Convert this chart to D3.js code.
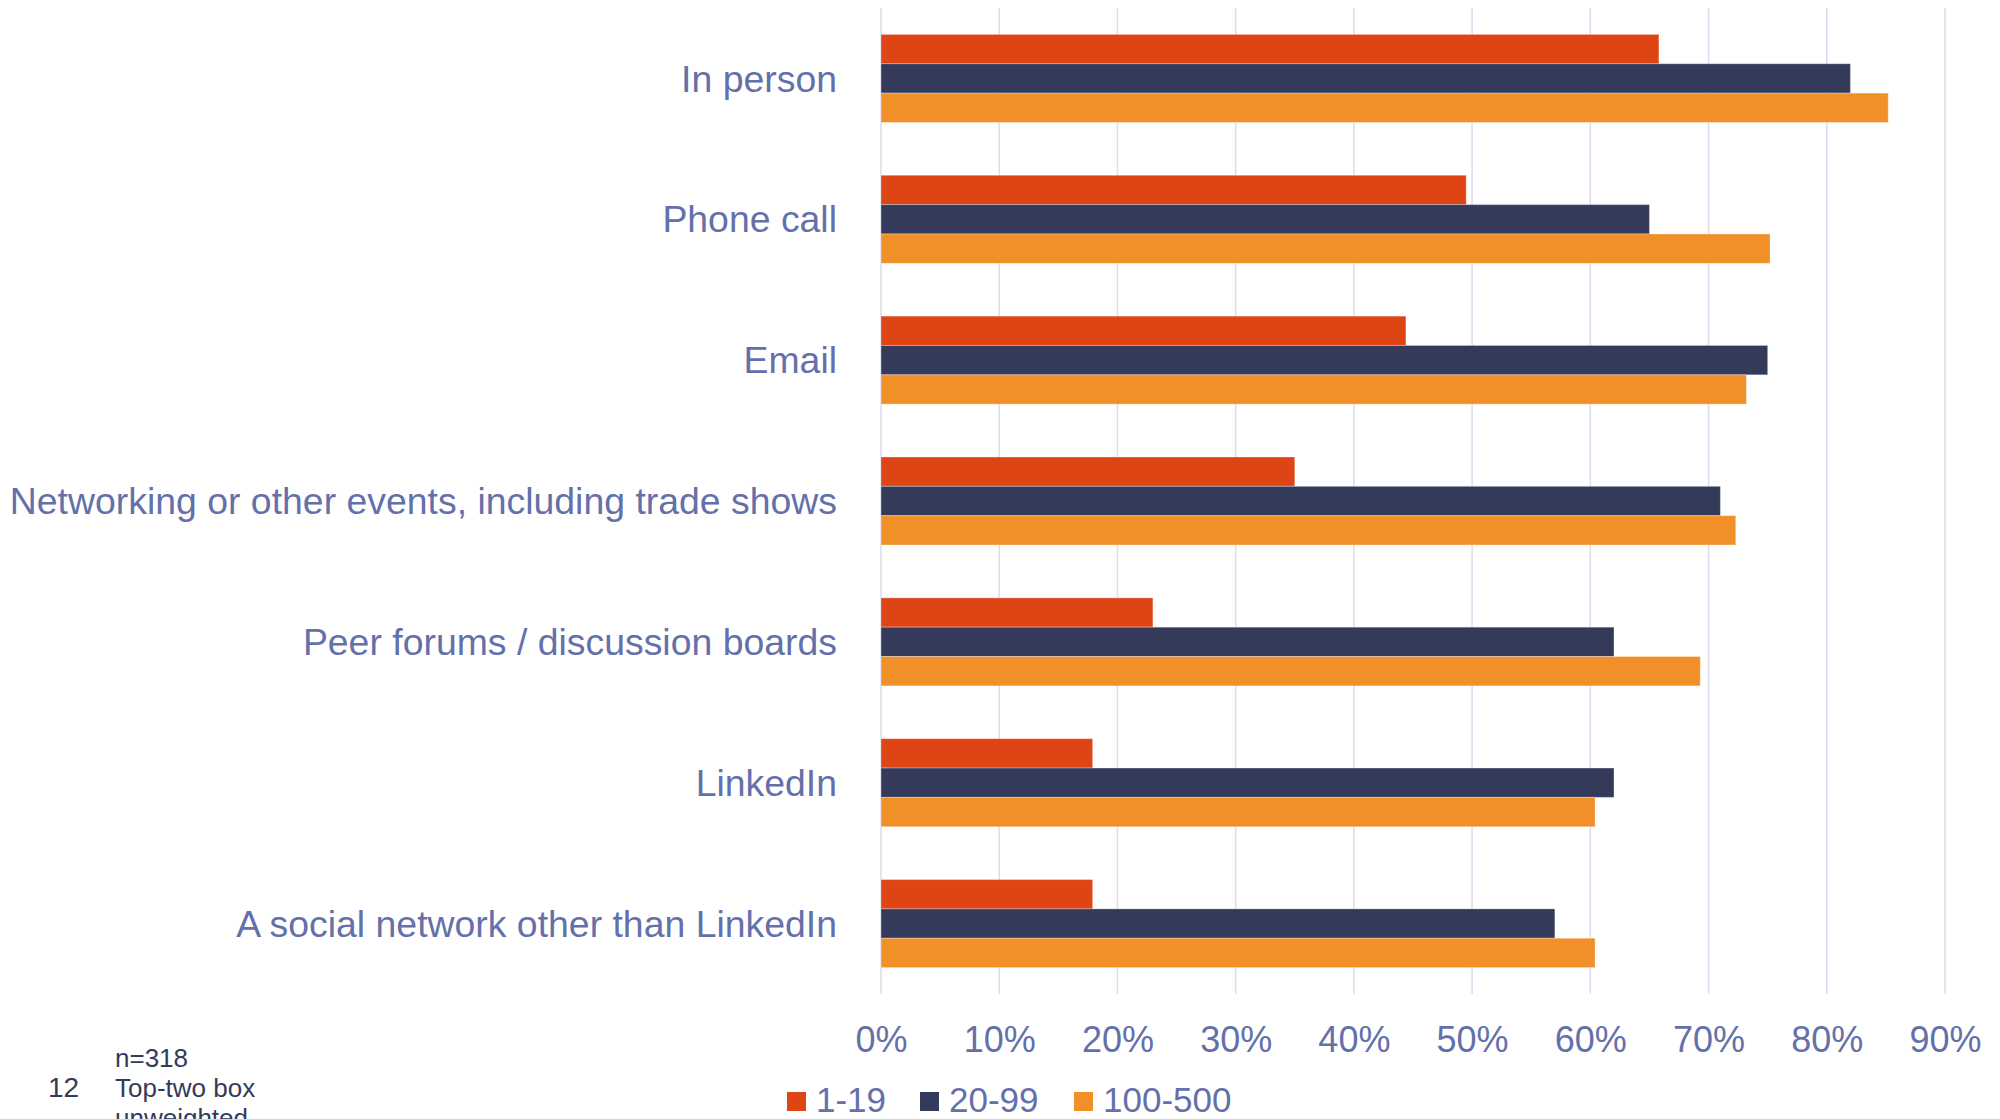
<!DOCTYPE html>
<html>
<head>
<meta charset="utf-8">
<script src="https://cdn.jsdelivr.net/npm/d3@7"></script>
<style>
  html, body { margin: 0; padding: 0; background: #ffffff; }
  svg { display: block; }
</style>
</head>
<body>
<svg id="chart" width="2000" height="1119"></svg>
<script>
// Channels, top to bottom
const categories = [
  "In person",
  "Phone call",
  "Email",
  "Networking or other events, including trade shows",
  "Peer forums / discussion boards",
  "LinkedIn",
  "A social network other than LinkedIn"
];

// Company-size groups
const seriesNames = ["1-19", "20-99", "100-500"];
const seriesColors = ["#DF4514", "#343A5A", "#F19029"];

// Share of respondents (top-two box), per channel
const values119 = [0.658, 0.495, 0.444, 0.350, 0.230, 0.179, 0.179];
const values2099 = [0.820, 0.650, 0.750, 0.710, 0.620, 0.620, 0.570];
const values100500 = [0.852, 0.752, 0.732, 0.723, 0.693, 0.604, 0.604];

const tickValues = [0, 0.1, 0.2, 0.3, 0.4, 0.5, 0.6, 0.7, 0.8, 0.9];
const tickLabels = ["0%", "10%", "20%", "30%", "40%", "50%", "60%", "70%", "80%", "90%"];

const footnoteNumber = "12";
const footnoteLines = ["n=318", "Top-two box", "unweighted"];

const seriesValues = [values119, values2099, values100500];
const rows = categories.map((c, i) => ({
  category: c,
  values: seriesNames.map((s, j) => ({ series: s, index: j, value: seriesValues[j][i] }))
}));

const svg = d3.select("#chart");
const labelColor = "#6470AA";
const font = "'Liberation Sans', Arial, sans-serif";

const plotTop = 8, plotBottom = 994, plotLeft = 881, plotRight = 1945;

const x = d3.scaleLinear().domain([0, 0.9]).range([plotLeft, plotRight]);
const y = d3.scaleBand().domain(categories).range([plotTop, plotBottom])
  .paddingInner(0.375).paddingOuter(0.1875);
const ySeries = d3.scaleBand().domain(seriesNames).range([0, y.bandwidth()]).padding(0);
const color = d3.scaleOrdinal().domain(seriesNames).range(seriesColors);

// Vertical gridlines
svg.append("g")
  .selectAll("line")
  .data(tickValues)
  .join("line")
  .attr("x1", d => x(d)).attr("x2", d => x(d))
  .attr("y1", plotTop).attr("y2", plotBottom)
  .attr("stroke", "#DCDCEE")
  .attr("stroke-width", 1.5);

// Bars
const groups = svg.append("g")
  .selectAll("g")
  .data(rows)
  .join("g")
  .attr("transform", d => `translate(0,${y(d.category)})`);

groups.selectAll("rect")
  .data(d => d.values)
  .join("rect")
  .attr("x", x(0))
  .attr("y", d => ySeries(d.series))
  .attr("width", d => x(d.value) - x(0))
  .attr("height", ySeries.bandwidth())
  .attr("fill", d => color(d.series))
  .attr("stroke", "rgba(255,255,255,0.3)")
  .attr("stroke-width", 1);

// Category labels
svg.append("g")
  .selectAll("text")
  .data(categories)
  .join("text")
  .attr("x", 837)
  .attr("y", d => y(d) + y.bandwidth() / 2)
  .attr("dy", "0.35em")
  .attr("text-anchor", "end")
  .attr("font-family", font)
  .attr("font-size", 37.4)
  .attr("fill", labelColor)
  .text(d => d);

// X axis labels
const xAxis = d3.axisBottom(x)
  .tickValues(tickValues)
  .tickFormat((d, i) => tickLabels[i])
  .tickSize(0)
  .tickPadding(0);

const axisG = svg.append("g")
  .attr("transform", `translate(0,1025)`)
  .call(xAxis);
axisG.select(".domain").remove();
axisG.selectAll("text")
  .attr("font-family", font)
  .attr("font-size", 36)
  .attr("fill", labelColor)
  .attr("dy", "0.75em");

// Legend
const legendItems = [
  { name: seriesNames[0], x: 787 },
  { name: seriesNames[1], x: 920 },
  { name: seriesNames[2], x: 1074 }
];
const legend = svg.append("g");
const li = legend.selectAll("g")
  .data(legendItems)
  .join("g")
  .attr("transform", d => `translate(${d.x},0)`);
li.append("rect")
  .attr("x", 0).attr("y", 1092)
  .attr("width", 19).attr("height", 19)
  .attr("fill", d => color(d.name));
li.append("text")
  .attr("x", 29).attr("y", 1112)
  .attr("font-family", font)
  .attr("font-size", 35)
  .attr("fill", labelColor)
  .text(d => d.name);

// Footnote
svg.append("text")
  .attr("x", 48).attr("y", 1097)
  .attr("font-family", font)
  .attr("font-size", 28)
  .attr("fill", "#343A5A")
  .text(footnoteNumber);

svg.append("g")
  .selectAll("text")
  .data(footnoteLines)
  .join("text")
  .attr("x", 115)
  .attr("y", (d, i) => 1067 + i * 30)
  .attr("font-family", font)
  .attr("font-size", 26)
  .attr("fill", "#343A5A")
  .text(d => d);
</script>
</body>
</html>
